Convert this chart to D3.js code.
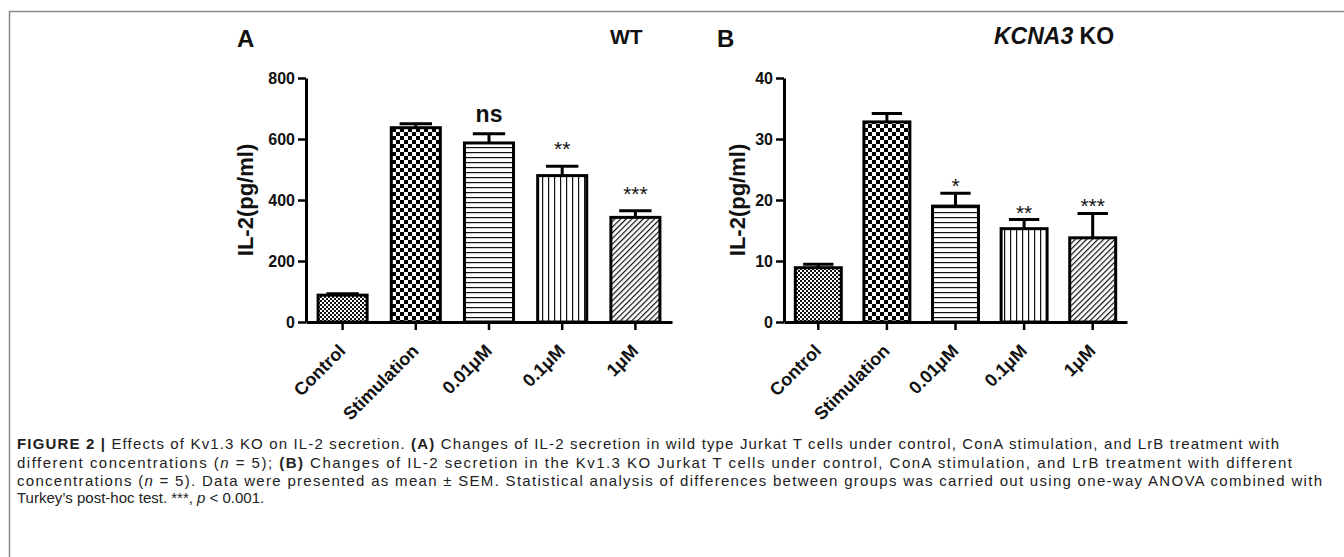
<!DOCTYPE html>
<html>
<head>
<meta charset="utf-8">
<script src="https://cdn.jsdelivr.net/npm/d3@7"></script>
<style>
  body { margin: 0; background: #fff; }
  text { font-family: "Liberation Sans", Arial, sans-serif; }
</style>
</head>
<body>
<script>
// data
var categories = ["Control", "Stimulation", "0.01μM", "0.1μM", "1μM"];
var patterns = ["fineCheck", "bigCheck", "hLines", "vLines", "diagLines"];

var wtMean = [88, 637, 587, 480, 343];
var wtSem = [5, 13, 30, 31, 22];
var wtSig = ["", "", "ns", "**", "***"];
var wtTicks = [0, 200, 400, 600, 800];

var koMean = [8.9, 32.8, 19.0, 15.3, 13.8];
var koSem = [0.55, 1.4, 2.1, 1.5, 4.0];
var koSig = ["", "", "*", "**", "***"];
var koTicks = [0, 10, 20, 30, 40];

var svg = d3.select("body").append("svg")
    .attr("width", 1344)
    .attr("height", 557);

// fill patterns
var defs = svg.append("defs");

var p1 = defs.append("pattern").attr("id", "fineCheck")
    .attr("patternUnits", "userSpaceOnUse").attr("width", 4).attr("height", 4);
p1.append("rect").attr("width", 4).attr("height", 4).attr("fill", "#fff");
p1.append("rect").attr("width", 2).attr("height", 2).attr("fill", "#111");
p1.append("rect").attr("x", 2).attr("y", 2).attr("width", 2).attr("height", 2).attr("fill", "#111");

var p2 = defs.append("pattern").attr("id", "bigCheck")
    .attr("patternUnits", "userSpaceOnUse").attr("width", 8).attr("height", 8);
p2.append("rect").attr("width", 8).attr("height", 8).attr("fill", "#fff");
p2.append("rect").attr("width", 4).attr("height", 4).attr("fill", "#000");
p2.append("rect").attr("x", 4).attr("y", 4).attr("width", 4).attr("height", 4).attr("fill", "#000");

var p3 = defs.append("pattern").attr("id", "hLines")
    .attr("patternUnits", "userSpaceOnUse").attr("width", 10).attr("height", 5);
p3.append("rect").attr("width", 10).attr("height", 5).attr("fill", "#fff");
p3.append("rect").attr("y", 2).attr("width", 10).attr("height", 1.2).attr("fill", "#111");

var p4 = defs.append("pattern").attr("id", "vLines")
    .attr("patternUnits", "userSpaceOnUse").attr("width", 6).attr("height", 10);
p4.append("rect").attr("width", 6).attr("height", 10).attr("fill", "#fff");
p4.append("rect").attr("x", 2).attr("width", 1.2).attr("height", 10).attr("fill", "#111");

var p5 = defs.append("pattern").attr("id", "diagLines")
    .attr("patternUnits", "userSpaceOnUse").attr("width", 4).attr("height", 10)
    .attr("patternTransform", "rotate(45)");
p5.append("rect").attr("width", 4).attr("height", 10).attr("fill", "#fff");
p5.append("rect").attr("x", 1).attr("width", 1.2).attr("height", 10).attr("fill", "#111");

// frame
svg.append("path")
    .attr("d", "M9.5,557 L9.5,11.5 L1344,11.5")
    .attr("fill", "none")
    .attr("stroke", "#8a8a8a")
    .attr("stroke-width", 1.5);

function drawPanel(cfg) {
    var g = svg.append("g");

    var x = d3.scaleBand().domain(categories).range([cfg.left, cfg.right]).paddingInner(0.33).paddingOuter(0.165);
    var y = d3.scaleLinear().domain([0, cfg.ticks[cfg.ticks.length - 1]]).range([322, 78]);

    var rows = categories.map(function(c, i) {
        return {cat: c, mean: cfg.mean[i], sem: cfg.sem[i], sig: cfg.sig[i], pat: patterns[i]};
    });

    var capW = x.bandwidth() * 0.66;

    // error bars (upper only)
    g.selectAll(".err")
        .data(rows)
        .enter()
        .append("path")
        .attr("d", function(d) {
            var cx = x(d.cat) + x.bandwidth() / 2;
            return "M" + cx + "," + y(d.mean) + "V" + y(d.mean + d.sem) +
                "M" + (cx - capW / 2) + "," + y(d.mean + d.sem) + "H" + (cx + capW / 2);
        })
        .attr("fill", "none")
        .attr("stroke", "#000")
        .attr("stroke-width", 3);

    // bars
    g.selectAll(".bar")
        .data(rows)
        .enter()
        .append("rect")
        .attr("x", function(d) { return x(d.cat); })
        .attr("y", function(d) { return y(d.mean); })
        .attr("width", x.bandwidth())
        .attr("height", function(d) { return y(0) - y(d.mean); })
        .attr("fill", function(d) { return "url(#" + d.pat + ")"; })
        .attr("stroke", "#000")
        .attr("stroke-width", 3);

    // significance marks
    g.selectAll(".sig")
        .data(rows.filter(function(d) { return d.sig; }))
        .enter()
        .append("text")
        .attr("x", function(d) { return x(d.cat) + x.bandwidth() / 2; })
        .attr("y", function(d) { return y(d.mean + d.sem) - (d.sig == "ns" ? 12 : cfg.sigOffset); })
        .attr("text-anchor", "middle")
        .attr("font-size", function(d) { return d.sig == "ns" ? "23px" : "21px"; })
        .attr("font-weight", function(d) { return d.sig == "ns" ? "bold" : "normal"; })
        .attr("fill", "#111")
        .text(function(d) { return d.sig; });

    // axes
    var yAxis = g.append("g")
        .attr("transform", "translate(" + cfg.left + ",0)")
        .call(d3.axisLeft(y).tickValues(cfg.ticks).tickSize(8).tickSizeOuter(0).tickPadding(3));

    var xAxis = g.append("g")
        .attr("transform", "translate(0," + y(0) + ")")
        .call(d3.axisBottom(x).tickSize(8).tickSizeOuter(0));

    [yAxis, xAxis].forEach(function(a) {
        a.select(".domain").attr("stroke", "#000").attr("stroke-width", 3);
        a.selectAll(".tick line").attr("stroke", "#000").attr("stroke-width", 2.5);
        a.selectAll("text")
            .attr("font-family", "'Liberation Sans', Arial, sans-serif")
            .attr("font-size", "16px")
            .attr("font-weight", "bold")
            .attr("fill", "#111");
    });

    xAxis.selectAll(".tick text")
        .attr("x", 0).attr("y", 0).attr("dy", 0)
        .attr("font-size", "18px")
        .attr("text-anchor", "end")
        .attr("transform", "translate(4,30) rotate(-45)");

    // y label
    g.append("text")
        .attr("transform", "translate(" + cfg.labelX + ",200) rotate(-90)")
        .attr("text-anchor", "middle")
        .attr("font-size", "22px")
        .attr("font-weight", "bold")
        .attr("fill", "#111")
        .text("IL-2(pg/ml)");

    // panel letter and title
    g.append("text")
        .attr("x", cfg.letterX).attr("y", 47)
        .attr("font-size", "24px").attr("font-weight", "bold").attr("fill", "#111")
        .text(cfg.letter);

    var t = g.append("text")
        .attr("x", cfg.titleX).attr("y", 44)
        .attr("font-size", cfg.titleSize).attr("font-weight", "bold").attr("fill", "#111");
    cfg.title.forEach(function(s) {
        t.append("tspan").attr("font-style", s[1] ? "italic" : "normal").text(s[0]);
    });
}

drawPanel({left: 306, right: 672, ticks: wtTicks, mean: wtMean, sem: wtSem, sig: wtSig,
    sigOffset: 10, labelX: 253, letter: "A", letterX: 237,
    title: [["WT", false]], titleX: 610, titleSize: "21px"});

drawPanel({left: 784, right: 1127, ticks: koTicks, mean: koMean, sem: koSem, sig: koSig,
    sigOffset: 0, labelX: 745, letter: "B", letterX: 717,
    title: [["KCNA3", true], [" KO", false]], titleX: 994, titleSize: "23px"});

// caption, lines 1-3 stretched to the figure width
var captionLines = [
    [["FIGURE 2 | ", "b"], ["Effects of Kv1.3 KO on IL-2 secretion. ", ""], ["(A)", "b"],
     [" Changes of IL-2 secretion in wild type Jurkat T cells under control, ConA stimulation, and LrB treatment with", ""]],
    [["different concentrations (", ""], ["n", "i"], [" = 5); ", ""], ["(B)", "b"],
     [" Changes of IL-2 secretion in the Kv1.3 KO Jurkat T cells under control, ConA stimulation, and LrB treatment with different", ""]],
    [["concentrations (", ""], ["n", "i"],
     [" = 5). Data were presented as mean ± SEM. Statistical analysis of differences between groups was carried out using one-way ANOVA combined with", ""]],
    [["Turkey’s post-hoc test. ***, ", ""], ["p", "i"], [" < 0.001.", ""]]
];
var captionWidths = [1262, 1275, 1305, 0];
var captionY = [449, 467.5, 486, 503];

captionLines.forEach(function(line, i) {
    var t = svg.append("text")
        .attr("x", 17)
        .attr("y", captionY[i])
        .attr("font-family", "'Liberation Sans', Arial, sans-serif")
        .attr("font-size", "15px")
        .attr("fill", "#222");
    line.forEach(function(s) {
        t.append("tspan")
            .attr("font-weight", s[1] == "b" ? "bold" : "normal")
            .attr("font-style", s[1] == "i" ? "italic" : "normal")
            .text(s[0]);
    });
    if (captionWidths[i]) {
        t.attr("textLength", captionWidths[i]).attr("lengthAdjust", "spacing");
    }
});
</script>
</body>
</html>
